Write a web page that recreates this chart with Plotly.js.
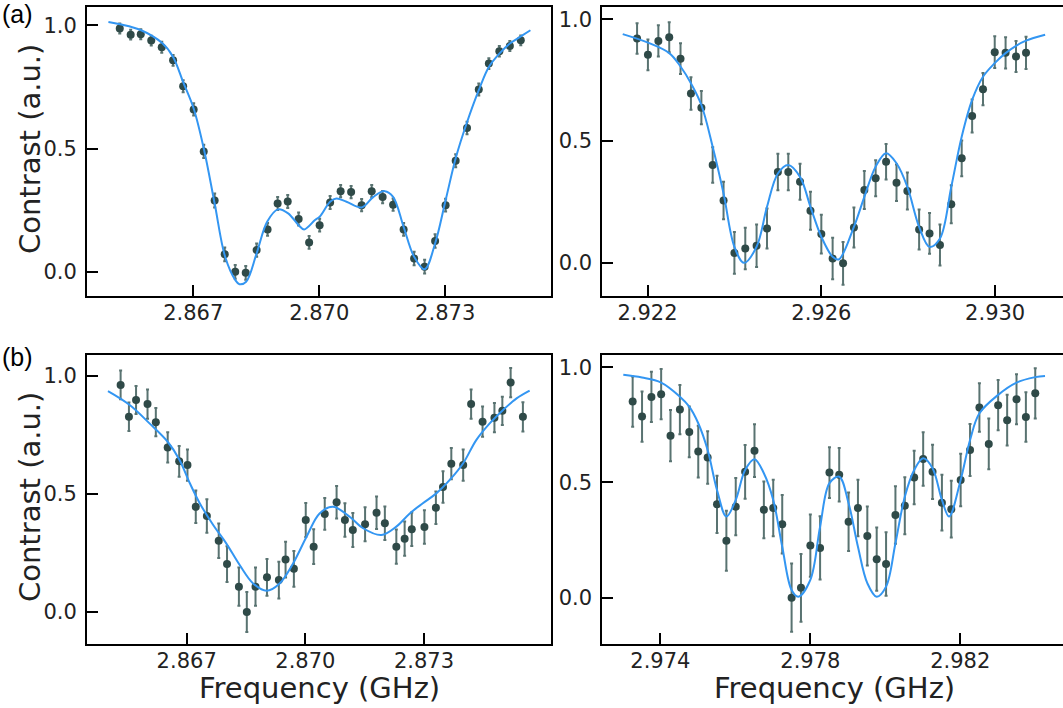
<!DOCTYPE html>
<html>
<head>
<meta charset="utf-8">
<script src="https://cdn.plot.ly/plotly-3.0.1.min.js"></script>
<style>
html, body { margin: 0; padding: 0; overflow: hidden; background: #ffffff; }
#chart { width: 1070px; height: 708px; }
</style>
</head>
<body>
<div id="chart"></div>
<script>
// ---------- Panel (a) left : measured points ----------
const aL_x = [2.86525,2.86551,2.86575,2.86600,2.86625,2.86652,2.86676,2.86701,2.86725,2.86751,2.86775,2.86800,2.86825,2.86851,2.86877,2.86901,2.86925,2.86951,2.86976,2.87001,2.87026,2.87051,2.87076,2.87101,2.87125,2.87151,2.87176,2.87201,2.87226,2.87251,2.87276,2.87301,2.87325,2.87352,2.87380,2.87404,2.87429,2.87454,2.87480];
const aL_y = [0.987,0.962,0.964,0.938,0.911,0.858,0.753,0.659,0.489,0.290,0.072,0.001,-0.003,0.089,0.173,0.278,0.286,0.215,0.120,0.190,0.282,0.328,0.324,0.271,0.328,0.304,0.273,0.173,0.055,0.022,0.126,0.271,0.451,0.584,0.740,0.845,0.895,0.916,0.939];
const aL_err = [0.020,0.020,0.020,0.020,0.022,0.022,0.024,0.025,0.027,0.028,0.028,0.028,0.028,0.027,0.026,0.026,0.026,0.026,0.026,0.026,0.026,0.025,0.025,0.025,0.025,0.025,0.025,0.026,0.027,0.028,0.027,0.026,0.026,0.025,0.024,0.022,0.021,0.020,0.020];
// fit curve
const aL_fitx = [2.86498,2.86526,2.86576,2.86626,2.86652,2.86676,2.86701,2.86726,2.86751,2.86776,2.86800,2.86810,2.86826,2.86851,2.86876,2.86902,2.86926,2.86951,2.86964,2.86990,2.87001,2.87026,2.87041,2.87065,2.87101,2.87129,2.87156,2.87176,2.87201,2.87226,2.87251,2.87276,2.87301,2.87326,2.87351,2.87380,2.87404,2.87429,2.87454,2.87480,2.87503];
const aL_fity = [1.013,1.004,0.980,0.928,0.872,0.770,0.663,0.494,0.278,0.062,-0.032,-0.049,-0.039,0.076,0.204,0.254,0.238,0.190,0.173,0.211,0.224,0.285,0.298,0.285,0.262,0.305,0.328,0.305,0.183,0.062,0.011,0.116,0.291,0.467,0.602,0.737,0.831,0.885,0.926,0.955,0.980];

// ---------- Panel (a) right ----------
const aR_x = [2.92176,2.92201,2.92225,2.92250,2.92276,2.92300,2.92324,2.92350,2.92375,2.92400,2.92425,2.92451,2.92475,2.92500,2.92524,2.92551,2.92575,2.92600,2.92626,2.92650,2.92675,2.92699,2.92725,2.92749,2.92773,2.92798,2.92825,2.92849,2.92873,2.92899,2.92923,2.92947,2.92972,2.92999,2.93024,2.93048,2.93071];
const aR_y = [0.921,0.854,0.911,0.926,0.838,0.695,0.637,0.402,0.256,0.041,0.059,0.070,0.141,0.373,0.373,0.333,0.214,0.118,0.018,-0.002,0.145,0.299,0.347,0.415,0.329,0.295,0.137,0.121,0.073,0.241,0.429,0.603,0.713,0.865,0.862,0.847,0.862];
const aR_err = [0.063,0.063,0.064,0.062,0.063,0.067,0.068,0.073,0.077,0.086,0.085,0.087,0.082,0.075,0.075,0.074,0.078,0.080,0.085,0.088,0.082,0.078,0.074,0.073,0.075,0.076,0.082,0.084,0.084,0.078,0.073,0.068,0.066,0.065,0.064,0.064,0.066];
const aR_fitx = [2.92143,2.92201,2.92250,2.92276,2.92300,2.92324,2.92350,2.92375,2.92400,2.92422,2.92451,2.92475,2.92500,2.92524,2.92551,2.92575,2.92600,2.92626,2.92640,2.92675,2.92699,2.92725,2.92749,2.92773,2.92798,2.92825,2.92849,2.92873,2.92899,2.92923,2.92947,2.92972,2.92999,2.93024,2.93048,2.93071,2.93115];
const aR_fity = [0.939,0.904,0.861,0.806,0.737,0.648,0.477,0.285,0.066,0.000,0.066,0.230,0.367,0.402,0.353,0.230,0.107,0.025,0.014,0.148,0.271,0.395,0.450,0.409,0.312,0.148,0.066,0.100,0.312,0.518,0.669,0.764,0.820,0.861,0.891,0.912,0.936];

// ---------- Panel (b) left ----------
const bL_x = [2.86533,2.86554,2.86572,2.86601,2.86622,2.86652,2.86681,2.86702,2.86723,2.86751,2.86781,2.86802,2.86832,2.86852,2.86874,2.86903,2.86933,2.86950,2.86971,2.87001,2.87021,2.87049,2.87079,2.87100,2.87120,2.87151,2.87180,2.87201,2.87230,2.87251,2.87269,2.87301,2.87330,2.87348,2.87369,2.87399,2.87419,2.87448,2.87478,2.87498,2.87519,2.87550];
const bL_y = [0.962,0.827,0.898,0.881,0.804,0.697,0.638,0.622,0.445,0.406,0.301,0.202,0.106,-0.001,0.106,0.146,0.134,0.221,0.182,0.389,0.276,0.415,0.464,0.389,0.347,0.371,0.420,0.375,0.276,0.310,0.350,0.359,0.441,0.529,0.628,0.622,0.881,0.806,0.823,0.852,0.972,0.827];
const bL_err = [0.061,0.060,0.059,0.062,0.060,0.064,0.065,0.066,0.069,0.071,0.073,0.076,0.081,0.085,0.081,0.078,0.078,0.076,0.076,0.072,0.074,0.067,0.069,0.071,0.072,0.072,0.069,0.071,0.073,0.073,0.071,0.071,0.069,0.067,0.066,0.066,0.062,0.064,0.062,0.060,0.062,0.062];
const bL_fitx = [2.86501,2.86556,2.86606,2.86652,2.86682,2.86708,2.86733,2.86767,2.86800,2.86834,2.86868,2.86902,2.86935,2.86969,2.87003,2.87036,2.87070,2.87112,2.87146,2.87192,2.87230,2.87264,2.87297,2.87331,2.87365,2.87399,2.87432,2.87466,2.87500,2.87534,2.87567];
const bL_fity = [0.936,0.877,0.799,0.721,0.644,0.545,0.460,0.368,0.290,0.198,0.120,0.089,0.120,0.205,0.318,0.417,0.445,0.403,0.354,0.325,0.361,0.417,0.460,0.502,0.559,0.630,0.728,0.799,0.856,0.905,0.938];

// ---------- Panel (b) right ----------
const bR_x = [2.97326,2.97351,2.97376,2.97402,2.97427,2.97452,2.97477,2.97501,2.97526,2.97551,2.97576,2.97601,2.97626,2.97651,2.97676,2.97701,2.97725,2.97750,2.97775,2.97800,2.97826,2.97851,2.97877,2.97902,2.97927,2.97952,2.97977,2.98002,2.98027,2.98052,2.98077,2.98101,2.98126,2.98151,2.98176,2.98201,2.98226,2.98251,2.98276,2.98301,2.98325,2.98350,2.98375,2.98400];
const bR_y = [0.851,0.786,0.871,0.883,0.703,0.816,0.719,0.634,0.608,0.405,0.247,0.395,0.546,0.638,0.381,0.389,0.319,0.000,0.043,0.226,0.216,0.543,0.533,0.329,0.389,0.268,0.167,0.146,0.359,0.399,0.521,0.602,0.546,0.412,0.384,0.511,0.641,0.825,0.667,0.835,0.770,0.861,0.784,0.887];
const bR_err = [0.109,0.109,0.109,0.109,0.111,0.107,0.110,0.112,0.114,0.124,0.130,0.124,0.117,0.114,0.123,0.123,0.127,0.148,0.147,0.135,0.137,0.110,0.116,0.127,0.123,0.128,0.137,0.138,0.125,0.124,0.116,0.116,0.118,0.121,0.123,0.114,0.113,0.105,0.110,0.109,0.110,0.108,0.107,0.109];
const bR_fitx = [2.97301,2.97351,2.97402,2.97452,2.97477,2.97501,2.97526,2.97551,2.97576,2.97601,2.97626,2.97651,2.97676,2.97701,2.97725,2.97750,2.97768,2.97800,2.97826,2.97851,2.97877,2.97902,2.97927,2.97952,2.97977,2.98002,2.98027,2.98052,2.98077,2.98101,2.98126,2.98151,2.98170,2.98201,2.98226,2.98251,2.98301,2.98350,2.98400,2.98426];
const bR_fity = [0.967,0.955,0.933,0.872,0.829,0.757,0.641,0.467,0.352,0.424,0.554,0.601,0.540,0.424,0.221,0.033,0.004,0.077,0.308,0.497,0.525,0.410,0.221,0.063,0.004,0.048,0.236,0.438,0.554,0.605,0.562,0.424,0.352,0.511,0.684,0.800,0.880,0.933,0.957,0.962];

// ---------- tick labels ----------
const xTicksA = [2.867, 2.870, 2.873];
const xTicksAR = [2.922, 2.926, 2.930];
const xTicksBR = [2.974, 2.978, 2.982];
const yTicks = [0.0, 0.5, 1.0];

const panelLabels = ["(a)", "(b)"];
const yTitle = "Contrast (a.u.)";
const xTitle = "Frequency (GHz)";

// ---------- styling ----------
const markerColor = "#2f4a48";
const errColor = "rgba(60,90,88,0.85)";
const fitColor = "#3396f2";
const W = 1070, H = 708;

function pts(x, y, e, xa, ya) {
  return {
    x: x, y: y, xaxis: xa, yaxis: ya, type: "scatter", mode: "markers",
    marker: { color: markerColor, size: 8 },
    error_y: { type: "data", array: e, visible: true, color: errColor, thickness: 2, width: 1.5 },
    showlegend: false, hoverinfo: "x+y"
  };
}
function fit(x, y, xa, ya) {
  return {
    x: x, y: y, xaxis: xa, yaxis: ya, type: "scatter", mode: "lines",
    line: { color: fitColor, width: 2, shape: "spline", smoothing: 1 },
    showlegend: false, hoverinfo: "skip"
  };
}

const data = [
  pts(aL_x, aL_y, aL_err, "x", "y"), fit(aL_fitx, aL_fity, "x", "y"),
  pts(aR_x, aR_y, aR_err, "x2", "y2"), fit(aR_fitx, aR_fity, "x2", "y2"),
  pts(bL_x, bL_y, bL_err, "x3", "y3"), fit(bL_fitx, bL_fity, "x3", "y3"),
  pts(bR_x, bR_y, bR_err, "x4", "y4"), fit(bR_fitx, bR_fity, "x4", "y4")
];

const tickFont = { family: "DejaVu Sans", size: 21, color: "#222222" };
function xax(dom, range, ticks, anchor) {
  return {
    domain: dom, range: range, anchor: anchor,
    tickmode: "array", tickvals: ticks, ticktext: ticks.map(v => v.toFixed(3)),
    showline: true, linecolor: "#000000", linewidth: 2, mirror: true,
    ticks: "inside", ticklen: 11, tickwidth: 2, tickcolor: "#000000",
    showgrid: false, zeroline: false, tickfont: tickFont, fixedrange: true,
    ticklabelstandoff: -3
  };
}
function yax(dom, range, anchor) {
  return {
    domain: dom, range: range, anchor: anchor,
    tickmode: "array", tickvals: yTicks, ticktext: yTicks.map(v => v.toFixed(1)),
    showline: true, linecolor: "#000000", linewidth: 2, mirror: true,
    ticks: "inside", ticklen: 11, tickwidth: 2, tickcolor: "#000000",
    showgrid: false, zeroline: false, tickfont: tickFont, fixedrange: true,
    ticklabelstandoff: 4
  };
}

const xL = [87 / W, 551 / W], xR = [602.3 / W, 1066 / W];
const yT = [1 - 296 / H, 1 - 7.3 / H], yB = [1 - 644 / H, 1 - 355 / H];

const titleFont = { family: "DejaVu Sans", size: 29, color: "#222222" };
const labelFont = { family: "Liberation Sans", size: 25, color: "#000000" };

const layout = {
  width: W, height: H,
  margin: { l: 0, r: 0, t: 0, b: 0 },
  paper_bgcolor: "#ffffff", plot_bgcolor: "#ffffff",
  showlegend: false,
  xaxis: xax(xL, [2.86447, 2.87552], xTicksA, "y"),
  yaxis: yax(yT, [-0.097, 1.073], "x"),
  xaxis2: xax(xR, [2.92096, 2.93163], xTicksAR, "y2"),
  yaxis2: yax(yT, [-0.136, 1.049], "x2"),
  xaxis3: xax(xL, [2.86448, 2.87621], xTicksA, "y3"),
  yaxis3: yax(yB, [-0.137, 1.089], "x3"),
  xaxis4: xax(xR, [2.97245, 2.98482], xTicksBR, "y4"),
  yaxis4: yax(yB, [-0.201, 1.053], "x4"),
  annotations: [
    { text: panelLabels[0], xref: "paper", yref: "paper", x: 0, y: 1 - 14 / H, xanchor: "left", yanchor: "middle", showarrow: false, font: labelFont },
    { text: panelLabels[1], xref: "paper", yref: "paper", x: 0, y: 1 - 357 / H, xanchor: "left", yanchor: "middle", showarrow: false, font: labelFont },
    { text: yTitle, xref: "paper", yref: "paper", x: 30 / W, y: 1 - 149 / H, xanchor: "center", yanchor: "middle", textangle: -90, showarrow: false, font: titleFont },
    { text: yTitle, xref: "paper", yref: "paper", x: 30 / W, y: 1 - 497 / H, xanchor: "center", yanchor: "middle", textangle: -90, showarrow: false, font: titleFont },
    { text: xTitle, xref: "paper", yref: "paper", x: 319 / W, y: 1 - 688 / H, xanchor: "center", yanchor: "middle", showarrow: false, font: titleFont },
    { text: xTitle, xref: "paper", yref: "paper", x: 834 / W, y: 1 - 688 / H, xanchor: "center", yanchor: "middle", showarrow: false, font: titleFont }
  ]
};

Plotly.newPlot("chart", data, layout, { displayModeBar: false, staticPlot: true });
</script>
</body>
</html>
